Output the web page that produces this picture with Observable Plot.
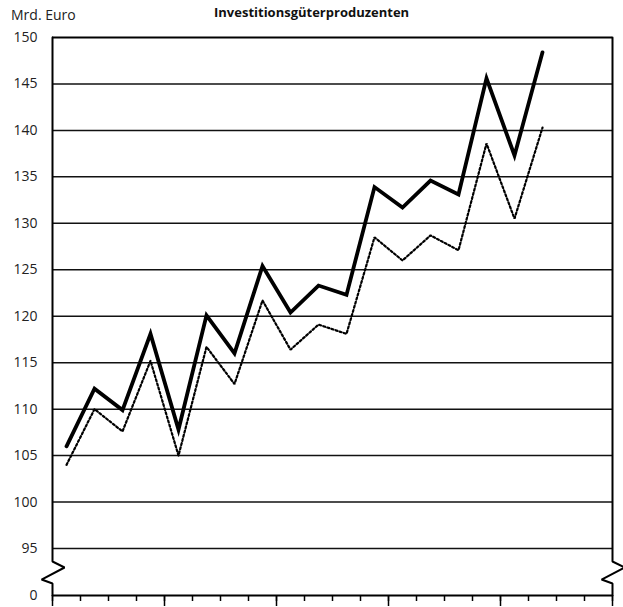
<!DOCTYPE html>
<html>
<head>
<meta charset="utf-8">
<script src="https://cdn.jsdelivr.net/npm/d3@7"></script>
<script src="https://cdn.jsdelivr.net/npm/@observablehq/plot@0.6"></script>
<style>
  html, body { margin: 0; padding: 0; background: #fff; }
  #wrap { position: relative; width: 623px; height: 607px; font-family: "Open Sans", sans-serif; }
  #unit { position: absolute; left: 11px; top: 5px; font-size: 14px; color: #222; line-height: 19px; }
  #title { position: absolute; left: 214px; top: 3px; font-size: 13px; font-weight: bold; color: #111; white-space: nowrap; line-height: 19px; }
</style>
</head>
<body>
<div id="wrap">
  <div id="unit">Mrd. Euro</div>
  <div id="title">Investitionsgüterproduzenten</div>
  <div id="chart"></div>
</div>
<script>
// Quarters (18 observed, axis covers 20 quarters)
const quarters = d3.range(18);
const axisQuarters = 20;
// Series values (Mrd. Euro)
const solidValues = [106.0, 112.2, 109.9, 118.1, 107.8, 120.1, 116.0, 125.4, 120.4, 123.3, 122.3, 133.9, 131.7, 134.6, 133.1, 145.6, 137.3, 148.4];
const dottedValues = [104.0, 110.0, 107.6, 115.2, 105.0, 116.7, 112.7, 121.7, 116.4, 119.1, 118.1, 128.5, 126.0, 128.7, 127.1, 138.6, 130.5, 140.3];
// Y tick labels
const yTicks = [0, 95, 100, 105, 110, 115, 120, 125, 130, 135, 140, 145, 150];
const gridValues = [95, 100, 105, 110, 115, 120, 125, 130, 135, 140, 145];
// Axis-break zigzag (x offset in quarters, y in data units)
const breakShape = [
  {dx: 0, y: 150}, {dx: 0, y: 68.7}, {dx: 0.43, y: 56.6}, {dx: -0.39, y: 32.3}, {dx: 0, y: 24.3}, {dx: 0, y: 0}
];

const solid = quarters.map((q, i) => ({x: q + 0.5, y: solidValues[i]}));
const dotted = quarters.map((q, i) => ({x: q + 0.5, y: dottedValues[i]}));
const leftBorder = breakShape.map(d => ({x: 0 + d.dx, y: d.y}));
const rightBorder = breakShape.map(d => ({x: axisQuarters + d.dx, y: d.y}));

const W = 623, H = 607, mt = 37, mb = 12, ml = 52, mr = 11;

const chart = Plot.plot({
  width: W,
  height: H,
  marginTop: mt,
  marginBottom: mb,
  marginLeft: ml,
  marginRight: mr,
  style: {fontFamily: "'Open Sans', sans-serif", background: "white", overflow: "visible"},
  x: {type: "linear", domain: [0, axisQuarters]},
  y: {type: "linear", domain: [0, 95, 150], range: [H - mb, H - mb - 47, mt]},
  marks: [
    Plot.ruleY(gridValues, {stroke: "#111", strokeWidth: 1.5}),
    Plot.ruleY([150], {stroke: "#000", strokeWidth: 2}),
    Plot.ruleY([0], {stroke: "#000", strokeWidth: 2}),
    Plot.line(leftBorder, {x: "x", y: "y", stroke: "#000", strokeWidth: 2, strokeLinejoin: "miter"}),
    Plot.line(rightBorder, {x: "x", y: "y", stroke: "#000", strokeWidth: 2, strokeLinejoin: "miter"}),
    Plot.axisY({ticks: yTicks, tickSize: 0, tickPadding: 15, fontSize: 14, label: null, color: "#222", tickFormat: d => String(d)}),
    Plot.axisX({ticks: d3.range(axisQuarters + 1), tickSize: 6, strokeWidth: 1.5, tickFormat: () => "", label: null}),
    Plot.axisX({ticks: d3.range(0, axisQuarters + 1, 4), tickSize: 11, strokeWidth: 1.5, tickFormat: () => "", label: null}),
    Plot.line(dotted, {x: "x", y: "y", stroke: "#000", strokeWidth: 2.2, strokeDasharray: "2 2.3", strokeLinejoin: "miter"}),
    Plot.line(solid, {x: "x", y: "y", stroke: "#000", strokeWidth: 3.8, strokeLinejoin: "miter", strokeMiterlimit: 10})
  ]
});
document.getElementById("chart").appendChild(chart);
</script>
</body>
</html>
